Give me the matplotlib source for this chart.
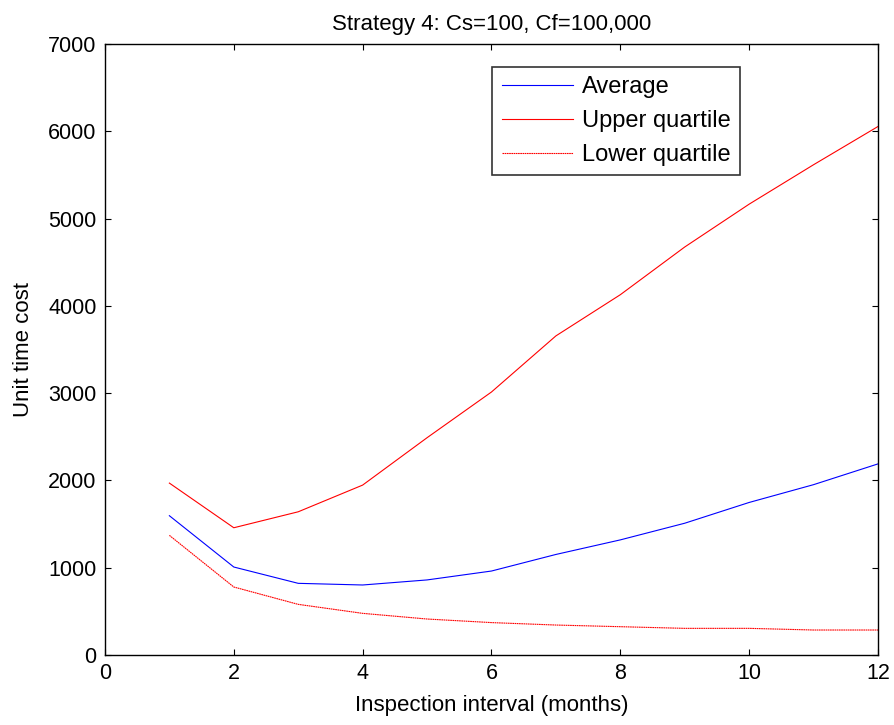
import numpy as np
import matplotlib.pyplot as plt

plt.rcParams['font.family'] = ['Liberation Sans', 'DejaVu Sans']

# data
months = [1, 2, 3, 4, 5, 6, 7, 8, 9, 10, 11, 12]
average = [1596, 1008, 821, 802, 860, 962, 1152, 1319, 1510, 1748, 1952, 2190]
upper_q = [1970, 1458, 1641, 1947, 2490, 3014, 3657, 4129, 4676, 5167, 5619, 6057]
lower_q = [1371, 779, 580, 477, 412, 371, 343, 324, 305, 305, 286, 286]

fig = plt.figure(figsize=(8.94, 7.25), dpi=100)
ax = fig.add_axes([0.1174, 0.0966, 0.8647, 0.8424])

ax.plot(months, average, color='blue', lw=0.8, label='Average')
ax.plot(months, upper_q, color='red', lw=0.8, label='Upper quartile')
ax.plot(months, lower_q, color='red', lw=0.8, ls=(0, (1.5, 0.5)), label='Lower quartile')

ax.set_xlim(0, 12)
ax.set_ylim(0, 7000)
ax.set_xticks(np.arange(0, 13, 2))
ax.set_yticks(np.arange(0, 7001, 1000))
ax.tick_params(direction='in', top=True, right=True, labelsize=15.5, length=4, pad=6)
for s in ax.spines.values():
    s.set_linewidth(1.0)

ax.set_title('Strategy 4: Cs=100, Cf=100,000', fontsize=16, pad=10)
ax.set_xlabel('Inspection interval (months)', fontsize=16, labelpad=8)
ax.set_ylabel('Unit time cost', fontsize=16, labelpad=10)

leg = ax.legend(loc='upper right', bbox_to_anchor=(0.822, 0.963), fontsize=17,
                fancybox=False, frameon=True, edgecolor='black', handlelength=3.0,
                borderpad=0.4, labelspacing=0.5, handletextpad=0.4,
                borderaxespad=0)
leg.get_frame().set_linewidth(1.2)

fig.savefig('out.png', dpi=100)
